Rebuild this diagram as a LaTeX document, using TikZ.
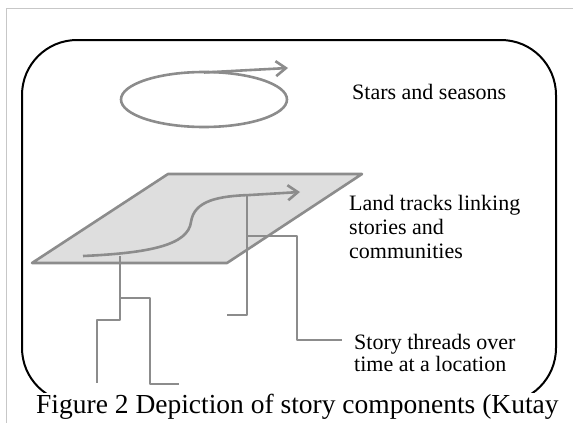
\documentclass[tikz,border=0pt]{standalone}
\usepackage{fontspec}
\setmainfont{Liberation Serif}
\usetikzlibrary{arrows.meta}

\begin{document}
\begin{tikzpicture}[x=1pt,y=-1pt,line join=round,
        thread/.style={draw=black!45,line width=2.6pt},
        track/.style={draw=black!45,line width=2.6pt,-{Straight Barb[length=10pt,width=15pt]}},
        desc/.style={anchor=base west,inner sep=0pt,align=left,font=\fontsize{22}{24}\selectfont}]
        \useasboundingbox (0,0) rectangle (573,423);
        \draw[black!22,line width=1pt] (573,8) -- (6.5,8) -- (6.5,423);

        \begin{scope}
                \clip (0,0) rectangle (573,392);
                \draw[line width=2pt,rounded corners=55pt] (22,40) rectangle (556,403);
        \end{scope}

        \draw[thread] (204,99.5) ellipse [x radius=83pt,y radius=27.5pt];
        \draw[track] (204,72.5) -- (288,68);

        \draw[thread,fill=black!13] (32,263) -- (227,263) -- (362,174) -- (168,174) -- cycle;

        \draw[thread] (120,256) -- (120,320) -- (97,320) -- (97,383);
        \draw[thread] (120,298) -- (150,298) -- (150,384) -- (179,384);
        \draw[thread] (247,195) -- (247,315) -- (227,315);
        \draw[thread] (247,236) -- (297,236) -- (297,340) -- (342,340);

        \draw[track] (83,256) .. controls (150,253) and (188,245) .. (191,222)
                .. controls (194,200) and (220,196) .. (250,195) -- (300,192);

        \node[desc] (stars) at (352,99) {Stars and seasons};
        \node[desc] (land) at (349,258) {Land tracks linking\\stories and\\communities};
        \node[desc,font=\fontsize{22}{21.5}\selectfont] (story) at (354,371) {Story threads over\\time at a location};

        \node[anchor=base west,inner sep=0pt,font=\fontsize{27.5}{30}\selectfont] (fig) at (36,413)
                {Figure 2 Depiction of story components (Kutay};
\end{tikzpicture}
\end{document}
